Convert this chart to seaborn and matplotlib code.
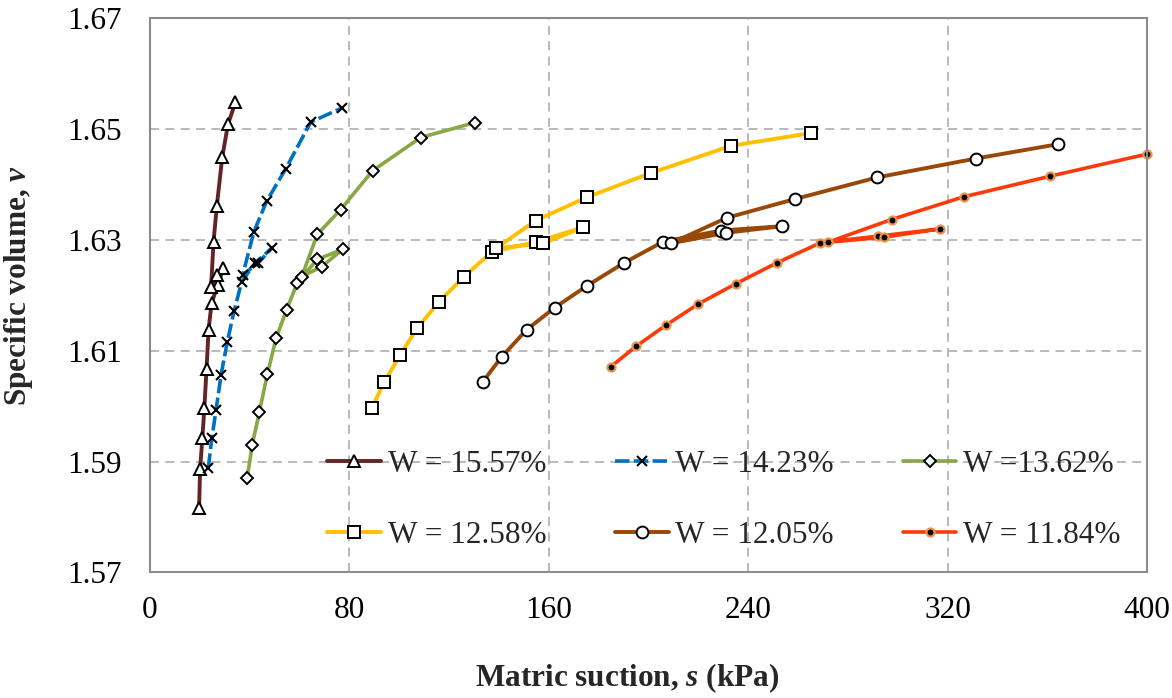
import matplotlib
matplotlib.use("Agg")
import matplotlib.pyplot as plt
import seaborn as sns
import pandas as pd

# ---------------- data ----------------
s_1557 = [19.7, 20.1, 21.0, 21.8, 22.7, 23.5, 24.7, 27.2, 29.4, 26.8, 24.5, 25.5, 26.8, 29.0, 31.3, 34.3]
v_1557 = [1.5816, 1.5886, 1.5942, 1.5996, 1.6068, 1.6138, 1.6186, 1.6219, 1.6249, 1.6237, 1.6215,
          1.6297, 1.6361, 1.6450, 1.6509, 1.6549]

s_1423 = [23.4, 24.8, 26.5, 28.5, 31.0, 33.7, 36.8, 42.1, 48.8, 43.5, 37.2, 41.7, 46.8, 54.4, 64.5, 76.9]
v_1423 = [1.5889, 1.5942, 1.5993, 1.6056, 1.6116, 1.6171, 1.6225, 1.6258, 1.6285, 1.6259, 1.6237,
          1.6315, 1.6370, 1.6428, 1.6513, 1.6538]

s_1362 = [39.0, 41.0, 43.9, 47.1, 50.6, 54.8, 59.1, 67.1, 77.3, 68.9, 60.9, 67.1, 76.5, 89.3, 108.6, 130.4]
v_1362 = [1.5870, 1.5930, 1.5990, 1.6058, 1.6123, 1.6174, 1.6223, 1.6265, 1.6283, 1.6252, 1.6234,
          1.6310, 1.6355, 1.6425, 1.6485, 1.6512]

s_1258 = [88.9, 94.0, 100.3, 107.2, 115.9, 126.0, 137.3, 154.7, 173.8, 157.8, 138.8, 154.7, 175.2, 201.0, 233.1, 265.2]
v_1258 = [1.5996, 1.6044, 1.6092, 1.6141, 1.6188, 1.6234, 1.6279, 1.6296, 1.6323, 1.6294, 1.6285,
          1.6335, 1.6377, 1.6421, 1.6470, 1.6493]

s_1205 = [133.5, 141.1, 151.1, 162.4, 175.2, 190.3, 205.9, 229.0, 253.7, 231.1, 209.0, 231.4, 258.8, 291.8, 331.3, 364.4]
v_1205 = [1.6044, 1.6089, 1.6138, 1.6178, 1.6217, 1.6259, 1.6297, 1.6317, 1.6325, 1.6313, 1.6294,
          1.6340, 1.6374, 1.6413, 1.6447, 1.6473]

s_1184 = [184.8, 195.0, 206.9, 219.8, 235.0, 251.6, 269.0, 292.1, 316.9, 294.5, 272.0, 297.5, 326.5, 361.0, 399.9]
v_1184 = [1.6071, 1.6108, 1.6146, 1.6184, 1.6221, 1.6259, 1.6295, 1.6307, 1.6320, 1.6305, 1.6296,
          1.6337, 1.6378, 1.6415, 1.6455]

labels = ["W = 15.57%", "W = 14.23%", "W =13.62%", "W = 12.58%", "W = 12.05%", "W = 11.84%"]
x_ticks = [0, 80, 160, 240, 320, 400]
y_ticks = [1.57, 1.59, 1.61, 1.63, 1.65, 1.67]

# ---------------- style ----------------
sns.set_theme(style="white")
plt.rcParams["font.family"] = ["Liberation Serif", "DejaVu Serif"]
plt.rcParams["mathtext.fontset"] = "custom"
plt.rcParams["mathtext.it"] = "Liberation Serif:italic:bold"
plt.rcParams["mathtext.rm"] = "Liberation Serif:bold"

FS = 22.5

fig = plt.figure(figsize=(11.72, 6.98), dpi=100)
ax = fig.add_axes([150 / 1172, 1 - 572.4 / 698, 997 / 1172, 554 / 698])

styles = [
    dict(color="#632523", marker="^", markersize=8.5, markerfacecolor="white",
         markeredgecolor="black", markeredgewidth=1.4, linewidth=2.8, linestyle="-"),
    dict(color="#0070C0", marker="x", markersize=7.5, markerfacecolor="black",
         markeredgecolor="black", markeredgewidth=1.5, linewidth=2.6, linestyle=(0, (4, 1.2))),
    dict(color="#86A845", marker="D", markersize=6.5, markerfacecolor="white",
         markeredgecolor="black", markeredgewidth=1.4, linewidth=2.6, linestyle="-"),
    dict(color="#FFC000", marker="s", markersize=8, markerfacecolor="white",
         markeredgecolor="black", markeredgewidth=1.4, linewidth=2.8, linestyle="-"),
    dict(color="#984807", marker="o", markersize=8.5, markerfacecolor="white",
         markeredgecolor="black", markeredgewidth=1.4, linewidth=2.8, linestyle="-"),
    dict(color="#FF3A0A", marker="o", markersize=5.8, markerfacecolor="black",
         markeredgecolor="#E8964F", markeredgewidth=1.6, linewidth=2.6, linestyle="-"),
]

series = [(s_1557, v_1557), (s_1423, v_1423), (s_1362, v_1362),
          (s_1258, v_1258), (s_1205, v_1205), (s_1184, v_1184)]

for (sx, sy), lab, st in zip(series, labels, styles):
    df = pd.DataFrame({"s": sx, "v": sy})
    sns.lineplot(data=df, x="s", y="v", sort=False, estimator=None, ax=ax,
                 label=lab, clip_on=False, **st)

ax.set_xlim(0, 400)
ax.set_ylim(1.57, 1.67)
ax.set_xticks(x_ticks)
ax.set_yticks(y_ticks)
ax.set_xticklabels([str(t) for t in x_ticks])
ax.set_yticklabels([f"{t:.2f}" for t in y_ticks])
ax.tick_params(axis="x", length=0, pad=17, labelsize=FS, colors="black")
ax.tick_params(axis="y", length=0, pad=20, labelsize=FS, colors="black")

ax.grid(True, color="#B4B4B4", linestyle=(0, (5, 3.5)), linewidth=1.3)
for sp in ax.spines.values():
    sp.set_color("#8C8C8C")
    sp.set_linewidth(1.5)
    sp.set_visible(True)

ax.set_xlabel(r"Matric suction, $s$ (kPa)", fontsize=FS, fontweight="bold")
ax.set_ylabel(r"Specific volume, $v$", fontsize=FS, fontweight="bold")
ax.xaxis.set_label_coords(0.479, -0.16)
ax.yaxis.set_label_coords(-0.115, 0.517)

# legend: row-wise order with 3 columns
handles, labs = ax.get_legend_handles_labels()
order = [0, 3, 1, 4, 2, 5]
leg = ax.legend([handles[i] for i in order], [labs[i] for i in order],
                ncol=3, loc="center", bbox_to_anchor=(724 / 1172, 1 - 500 / 698),
                bbox_transform=fig.transFigure, frameon=False, fontsize=FS,
                handlelength=1.71, handletextpad=0.22, columnspacing=2.2,
                labelspacing=1.32, borderpad=0.0)

fig.savefig("out.png", dpi=100)
